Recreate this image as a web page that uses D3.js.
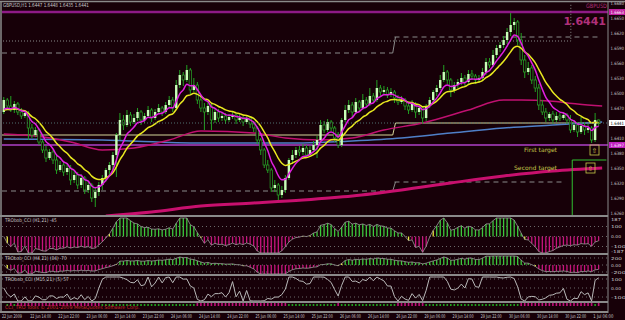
<!DOCTYPE html>
<html>
<head>
<meta charset="utf-8">
<script src="https://cdn.jsdelivr.net/npm/d3@7"></script>
<style>
  body { margin: 0; background: #170008; }
  svg { display: block; font-family: "DejaVu Sans", sans-serif; }
</style>
</head>
<body>
<svg id="chart" width="625" height="320"></svg>
<script>
// GBPUSD H1 bars, [open, high, low, close]
const bars = [
  [1.6463,1.6493,1.6459,1.6487],[1.6487,1.6491,1.6471,1.6475],[1.6475,1.6495,1.6463,1.6467],[1.6467,1.6485,1.6461,1.6479],
  [1.6479,1.6483,1.6457,1.6463],[1.6463,1.6471,1.6449,1.6455],[1.6455,1.6467,1.6451,1.6461],[1.6461,1.6465,1.6407,1.6431],
  [1.6431,1.6439,1.6411,1.6417],[1.6417,1.6433,1.6413,1.6427],[1.6427,1.6431,1.6397,1.6403],[1.6403,1.6407,1.6381,1.6387],
  [1.6387,1.6395,1.6363,1.6371],[1.6371,1.6389,1.6367,1.6383],[1.6383,1.6387,1.6359,1.6367],[1.6367,1.6375,1.6339,1.6347],
  [1.6347,1.6365,1.6343,1.6357],[1.6357,1.6363,1.6335,1.6343],[1.6343,1.6361,1.6337,1.6351],[1.6351,1.6357,1.6317,1.6327],
  [1.6327,1.6345,1.6321,1.6337],[1.6337,1.6343,1.6309,1.6317],[1.6317,1.6339,1.6311,1.6331],[1.6331,1.6335,1.6299,1.6307],
  [1.6307,1.6325,1.6301,1.6317],[1.6317,1.6321,1.6283,1.6291],[1.6291,1.6311,1.6273,1.6303],[1.6303,1.6323,1.6295,1.6317],
  [1.6317,1.6337,1.6307,1.6331],[1.6331,1.6351,1.6323,1.6347],[1.6347,1.6363,1.6337,1.6357],[1.6357,1.6383,1.6347,1.6377],
  [1.6377,1.6421,1.6333,1.6417],[1.6417,1.6461,1.6407,1.6447],[1.6447,1.6457,1.6427,1.6437],[1.6437,1.6467,1.6433,1.6457],
  [1.6457,1.6463,1.6435,1.6443],[1.6443,1.6459,1.6439,1.6451],[1.6451,1.6471,1.6445,1.6463],[1.6463,1.6467,1.6437,1.6447],
  [1.6447,1.6461,1.6441,1.6455],[1.6455,1.6475,1.6451,1.6467],[1.6467,1.6471,1.6443,1.6451],[1.6451,1.6469,1.6447,1.6463],
  [1.6463,1.6479,1.6459,1.6471],[1.6471,1.6475,1.6455,1.6463],[1.6463,1.6483,1.6459,1.6477],[1.6477,1.6495,1.6471,1.6487],
  [1.6487,1.6493,1.6463,1.6471],[1.6471,1.6527,1.6467,1.6517],[1.6517,1.6547,1.6511,1.6537],[1.6537,1.6543,1.6515,1.6527],
  [1.6527,1.6557,1.6523,1.6547],[1.6547,1.6551,1.6499,1.6507],[1.6507,1.6531,1.6503,1.6517],[1.6517,1.6523,1.6479,1.6487],
  [1.6487,1.6495,1.6463,1.6471],[1.6471,1.6481,1.6427,1.6463],[1.6463,1.6483,1.6457,1.6475],[1.6475,1.6479,1.6427,1.6447],
  [1.6447,1.6471,1.6441,1.6463],[1.6463,1.6469,1.6443,1.6451],[1.6451,1.6463,1.6445,1.6455],[1.6455,1.6461,1.6439,1.6447],
  [1.6447,1.6459,1.6443,1.6453],[1.6453,1.6463,1.6449,1.6457],[1.6457,1.6461,1.6439,1.6447],[1.6447,1.6459,1.6443,1.6451],
  [1.6451,1.6455,1.6435,1.6443],[1.6443,1.6457,1.6439,1.6451],[1.6451,1.6455,1.6431,1.6439],[1.6439,1.6445,1.6423,1.6431],
  [1.6431,1.6435,1.6399,1.6407],[1.6407,1.6411,1.6377,1.6387],[1.6387,1.6391,1.6351,1.6357],[1.6357,1.6367,1.6341,1.6347],
  [1.6347,1.6351,1.6303,1.6311],[1.6311,1.6327,1.6303,1.6317],[1.6317,1.6321,1.6287,1.6297],[1.6297,1.6315,1.6291,1.6307],
  [1.6307,1.6337,1.6301,1.6331],[1.6331,1.6371,1.6327,1.6367],[1.6367,1.6387,1.6359,1.6377],[1.6377,1.6393,1.6371,1.6387],
  [1.6387,1.6395,1.6375,1.6383],[1.6383,1.6399,1.6377,1.6391],[1.6391,1.6397,1.6371,1.6377],[1.6377,1.6395,1.6373,1.6387],
  [1.6387,1.6405,1.6383,1.6397],[1.6397,1.6415,1.6371,1.6407],[1.6407,1.6447,1.6403,1.6437],[1.6437,1.6445,1.6421,1.6427],
  [1.6427,1.6449,1.6423,1.6443],[1.6443,1.6447,1.6425,1.6431],[1.6431,1.6435,1.6403,1.6411],[1.6411,1.6423,1.6391,1.6397],
  [1.6397,1.6451,1.6393,1.6447],[1.6447,1.6477,1.6443,1.6467],[1.6467,1.6487,1.6461,1.6477],[1.6477,1.6483,1.6453,1.6463],
  [1.6463,1.6491,1.6459,1.6483],[1.6483,1.6487,1.6465,1.6471],[1.6471,1.6499,1.6467,1.6487],[1.6487,1.6493,1.6473,1.6479],
  [1.6479,1.6511,1.6475,1.6495],[1.6495,1.6501,1.6481,1.6487],[1.6487,1.6527,1.6483,1.6511],[1.6511,1.6517,1.6495,1.6503],
  [1.6503,1.6515,1.6497,1.6507],[1.6507,1.6513,1.6491,1.6497],[1.6497,1.6511,1.6493,1.6503],[1.6503,1.6507,1.6481,1.6491],
  [1.6491,1.6497,1.6477,1.6483],[1.6483,1.6495,1.6479,1.6487],[1.6487,1.6491,1.6467,1.6475],[1.6475,1.6481,1.6459,1.6467],
  [1.6467,1.6487,1.6463,1.6479],[1.6479,1.6483,1.6451,1.6463],[1.6463,1.6477,1.6457,1.6471],[1.6471,1.6475,1.6439,1.6451],
  [1.6451,1.6479,1.6445,1.6475],[1.6475,1.6493,1.6471,1.6487],[1.6487,1.6507,1.6479,1.6503],[1.6503,1.6517,1.6495,1.6511],
  [1.6511,1.6537,1.6507,1.6527],[1.6527,1.6557,1.6523,1.6543],[1.6543,1.6547,1.6519,1.6527],[1.6527,1.6531,1.6493,1.6507],
  [1.6507,1.6523,1.6501,1.6517],[1.6517,1.6529,1.6511,1.6523],[1.6523,1.6541,1.6517,1.6531],[1.6531,1.6537,1.6513,1.6523],
  [1.6523,1.6547,1.6519,1.6539],[1.6539,1.6547,1.6527,1.6535],[1.6535,1.6539,1.6519,1.6527],[1.6527,1.6537,1.6521,1.6531],
  [1.6531,1.6551,1.6527,1.6543],[1.6543,1.6571,1.6537,1.6563],[1.6563,1.6571,1.6551,1.6557],[1.6557,1.6587,1.6553,1.6577],
  [1.6577,1.6597,1.6571,1.6591],[1.6591,1.6603,1.6583,1.6597],[1.6597,1.6615,1.6591,1.6607],[1.6607,1.6631,1.6599,1.6623],
  [1.6623,1.6661,1.6615,1.6637],[1.6637,1.6651,1.6627,1.6643],[1.6643,1.6647,1.6597,1.6607],[1.6607,1.6621,1.6557,1.6567],
  [1.6567,1.6577,1.6531,1.6543],[1.6543,1.6563,1.6537,1.6551],[1.6551,1.6557,1.6519,1.6527],[1.6527,1.6535,1.6503,1.6511],
  [1.6511,1.6519,1.6467,1.6477],[1.6477,1.6487,1.6457,1.6463],[1.6463,1.6471,1.6443,1.6451],[1.6451,1.6463,1.6445,1.6459],
  [1.6459,1.6465,1.6439,1.6447],[1.6447,1.6463,1.6443,1.6455],[1.6455,1.6461,1.6445,1.6451],[1.6451,1.6463,1.6447,1.6457],
  [1.6457,1.6461,1.6439,1.6447],[1.6447,1.6457,1.6421,1.6427],[1.6427,1.6447,1.6423,1.6437],[1.6437,1.6443,1.6413,1.6423],
  [1.6423,1.6453,1.6419,1.6435],[1.6435,1.6443,1.6417,1.6427],[1.6427,1.6439,1.6421,1.6431],[1.6431,1.6435,1.6401,1.6407],
  [1.6407,1.6461,1.6403,1.6447],[1.6447,1.6448,1.6435,1.6441]
];

// slow moving averages: [bar index, price]
const slowMA = [[0,1.6419],[9,1.6415],[19,1.6403],[28,1.6387],[37,1.6391],[47,1.6407],[56,1.6425],[71,1.6421],[80,1.6411],[90,1.6407],[99,1.6411],[108,1.6427],[119,1.6441],[132,1.6467],[142,1.6487],[147,1.6487],[155,1.6485],[163,1.6479],[170,1.6475]];
const blueMA = [[0,1.6409],[28,1.6407],[56,1.6401],[85,1.6401],[99,1.6405],[113,1.6411],[127,1.6421],[142,1.6431],[156,1.6437],[170,1.6443]];
const longMA = [[29,1.6255],[42,1.6263],[56,1.6275],[71,1.6281],[85,1.6287],[99,1.6295],[113,1.6307],[127,1.6321],[142,1.6335],[156,1.6345],[170,1.6351]];
const maSeeds = [1.6461, 1.6463];   // magenta, yellow at the left edge

// horizontal levels: [from bar, to bar, price]
const dashedLevels = [[0,111,1.6581],[111.5,170,1.6613],[0,111,1.6305],[111.5,160,1.6323]];
const pivotLevels = [[0,111,1.6417],[111.5,170,1.6441]];
const dottedLevel = [0,161.6,1.6605];
const topLevel = 1.6663;
const violetLevel = 1.6397;
const targetLevels = [["First target", 1.6387], ["Second target", 1.6351]];
const greenBox = [162, 1.6367];
const bidPrice = 1.6441;

const priceTicks = [1.6680,1.6650,1.6620,1.6590,1.6560,1.6530,1.6500,1.6470,1.6440,1.6410,1.6380,1.6350,1.6320,1.6290,1.6260];
const timeLabels = ["22 Jun 2009","22 Jun 14:00","22 Jun 22:00","23 Jun 06:00","23 Jun 14:00","23 Jun 22:00","24 Jun 06:00","24 Jun 14:00","24 Jun 22:00","25 Jun 06:00","25 Jun 14:00","25 Jun 22:00","26 Jun 06:00","26 Jun 14:00","26 Jun 22:00","29 Jun 06:00","29 Jun 14:00","29 Jun 22:00","30 Jun 06:00","30 Jun 14:00","30 Jun 22:00","1 Jul 06:00"];
const panelTitles = ["TRObob_CCI (H1,21) -45", "TRObob_CCI (H4,21) (84) -70", "TRObob_CCI (M15,21) (5) 57", "CCI_TRO Tools \u00a9 2001-2009 MetaQuotes Software Corp."];
const cciTicks2 = [187, 100, 0, -100, -187];
const cciTicks3 = [200, 0, -200];
const cciTicks4 = [100, 0, -100];

const svg = d3.select("#chart");
const W = 625, H = 320, plotR = 608;
const bg = "#170008", frame = "#8a8a8a", txt = "#c8c8c8";

svg.append("rect").attr("width", W).attr("height", H).attr("fill", bg);

const x = d3.scaleLinear().domain([0, 170]).range([2, 2 + 170 * 3.52]);
const y = d3.scaleLinear().domain([1.6687, 1.6257]).range([0, 215]);
const cx = i => x(i + 0.5);

// small squeezed text like the terminal's bitmap font: measured, then scaled to width w
function label(g, tx, ty, s, w, col, size) {
  const t = g.append("text").attr("font-size", size || 5).attr("fill", col || txt).text(s);
  const len = t.node().getComputedTextLength() || w;
  t.attr("transform", `translate(${tx},${ty}) scale(${w / len},1)`);
  return t;
}

// indicators computed from the bars
function ema(vals, n, seed) {
  const k = 2 / (n + 1); let e = seed;
  return vals.map(v => (e = e + k * (v - e)));
}
function cci(n) {
  const tp = bars.map(b => (b[1] + b[2] + b[3]) / 3);
  return tp.map((v, i) => {
    const w = tp.slice(Math.max(0, i - n + 1), i + 1);
    if (w.length < 2) return 0;
    const m = d3.mean(w), md = d3.mean(w, d => Math.abs(d - m));
    return md === 0 ? 0 : (v - m) / (0.015 * md);
  });
}
const closes = bars.map(b => b[3]);
const fastMA = ema(closes, 6, maSeeds[0]);
const midMA = ema(closes, 12, maSeeds[1]);

// ---- main panel
svg.append("clipPath").attr("id", "clipMain").append("rect").attr("x", 2).attr("y", 3).attr("width", plotR - 2).attr("height", 212);
const main = svg.append("g").attr("clip-path", "url(#clipMain)");

main.append("line").attr("x1", 0).attr("x2", plotR).attr("y1", y(topLevel)).attr("y2", y(topLevel))
  .attr("stroke", "#8e1a86").attr("stroke-width", 2.5);

main.append("path")
  .attr("d", `M0,${y(dottedLevel[2])}H${x(dottedLevel[1])}V0`)
  .attr("fill", "none").attr("stroke", "#8a8a8a").attr("stroke-dasharray", "1,2");

dashedLevels.forEach(d => {
  main.append("line").attr("x1", x(d[0])).attr("x2", x(d[1])).attr("y1", y(d[2])).attr("y2", y(d[2]))
    .attr("stroke", "#8a8a8a").attr("stroke-dasharray", "5,4");
});
// step joints at day change
[[0, 1], [2, 3]].forEach(([a, b]) => {
  main.append("line").attr("x1", x(dashedLevels[a][1])).attr("x2", x(dashedLevels[b][0]) + 1)
    .attr("y1", y(dashedLevels[a][2])).attr("y2", y(dashedLevels[b][2])).attr("stroke", "#8a8a8a");
});

main.append("path")
  .attr("d", `M${x(pivotLevels[0][0])},${y(pivotLevels[0][2])}H${x(pivotLevels[0][1])}L${x(pivotLevels[1][0]) + 1},${y(pivotLevels[1][2])}H${x(pivotLevels[1][1])}`)
  .attr("fill", "none").attr("stroke", "#d6d69a").attr("stroke-width", 1);

main.append("line").attr("x1", 0).attr("x2", plotR).attr("y1", y(violetLevel)).attr("y2", y(violetLevel))
  .attr("stroke", "#b040c8").attr("stroke-width", 1.5);

const curve = d3.line().x(d => cx(d[0])).y(d => y(d[1])).curve(d3.curveMonotoneX);
main.append("path").datum(longMA).attr("d", curve).attr("fill", "none").attr("stroke", "#c8106e").attr("stroke-width", 3);
main.append("path").datum(blueMA).attr("d", curve).attr("fill", "none").attr("stroke", "#4f7fc8").attr("stroke-width", 1.5);
main.append("path").datum(slowMA).attr("d", curve).attr("fill", "none").attr("stroke", "#c01070").attr("stroke-width", 1.5);

// candles
const cg = main.append("g");
bars.forEach((b, i) => {
  const up = b[3] >= b[0];
  cg.append("line").attr("x1", cx(i)).attr("x2", cx(i)).attr("y1", y(b[1])).attr("y2", y(b[2]))
    .attr("stroke", "#22a022").attr("stroke-width", 1);
  const top = y(Math.max(b[0], b[3])), h = Math.max(1, Math.abs(y(b[0]) - y(b[3])));
  cg.append("rect").attr("x", cx(i) - 1.2).attr("y", top).attr("width", 2.4).attr("height", h)
    .attr("fill", up ? "#c8ffb8" : bg).attr("stroke", up ? "none" : "#28a828").attr("stroke-width", 0.7);
});

const line = d3.line().x((d, i) => cx(i)).y(d => y(d)).curve(d3.curveMonotoneX);
main.append("path").datum(midMA).attr("d", line).attr("fill", "none").attr("stroke", "#e8e820").attr("stroke-width", 1.5);
main.append("path").datum(fastMA).attr("d", line).attr("fill", "none").attr("stroke", "#e020e0").attr("stroke-width", 1.5);

// bid line
main.append("line").attr("x1", 0).attr("x2", plotR).attr("y1", y(bidPrice)).attr("y2", y(bidPrice))
  .attr("stroke", "#507070").attr("stroke-dasharray", "1,2");

// targets
targetLevels.forEach((t, k) => {
  const ty = y(t[1]);
  label(svg, 524 - k * 10, ty + 2, t[0], 33 + k * 10, "#c8c84a", 6);
  svg.append("rect").attr("x", 590 - k * 4).attr("y", ty - 5).attr("width", 9).attr("height", 10)
    .attr("fill", "none").attr("stroke", "#c8c84a").attr("stroke-width", 0.8);
  svg.append("text").attr("x", 594.5 - k * 4).attr("y", ty + 3).attr("text-anchor", "middle")
    .attr("font-size", 7).attr("fill", "#c8c84a").text("\u21e7");
});
// green marker
svg.append("path").attr("d", `M${x(greenBox[0])},216V${y(greenBox[1])}H${x(170) + 6}`)
  .attr("fill", "none").attr("stroke", "#30c030").attr("stroke-width", 1);

// labels in main panel
label(svg, 3, 7, "GBPUSD,H1  1.6447 1.6448 1.6435 1.6441", 86, txt, 5.5);
label(svg, 586, 8, "GBPUSD", 21, "#b0307a", 6);
svg.append("text").attr("x", 606).attr("y", 25).attr("text-anchor", "end").attr("font-size", 11).attr("font-weight", "bold").attr("fill", "#b0307a").text("1.6441");

// ---- sub panels
const cci21 = cci(21), cci42 = cci(42), cci7 = cci(7);
const p2 = d3.scaleLinear().domain([0, 100]).range([236.5, 226.5]);
const p3 = d3.scaleLinear().domain([0, 200]).range([265, 258]);
const p4 = d3.scaleLinear().domain([0, 100]).range([288, 279]);

function histo(vals, sc, lo, hi) {
  const g = svg.append("g");
  vals.forEach((v, i) => {
    const prev = i > 0 ? vals[i - 1] : v;
    let col = v >= 0 ? "#3cc83c" : "#c8147e";
    if ((v >= 0) !== (prev >= 0)) col = "#e8e840";
    const yy = Math.max(lo, Math.min(hi, sc(v)));
    g.append("line").attr("x1", cx(i)).attr("x2", cx(i)).attr("y1", sc(0)).attr("y2", yy)
      .attr("stroke", col).attr("stroke-width", 1.3);
  });
  g.append("path").datum(vals).attr("fill", "none").attr("stroke", "#9a9a9a").attr("stroke-width", 0.8)
    .attr("d", d3.line().x((d, i) => cx(i)).y(d => Math.max(lo, Math.min(hi, sc(d)))));
}
function grid(vals, sc) {
  vals.forEach(v => {
    svg.append("line").attr("x1", 2).attr("x2", plotR).attr("y1", sc(v)).attr("y2", sc(v))
      .attr("stroke", "#6a6a6a").attr("stroke-dasharray", "1,3");
    label(svg, 611, sc(v) + 1.5, v === 0 ? "0.00" : String(v), v === 0 ? 10 : 4 * String(v).length - 1, txt, 4);
  });
}
grid(cciTicks2.slice(1, 4), p2);
grid(cciTicks3, p3);
grid(cciTicks4, p4);
histo(cci21, p2, 218, 253);
histo(cci42.map(v => v * 1.5), p3, 256, 274);
svg.append("path").datum(cci7).attr("fill", "none").attr("stroke", "#b8b8b8").attr("stroke-width", 1)
  .attr("d", d3.line().x((d, i) => cx(i)).y(d => Math.max(277, Math.min(301, p4(d)))));

// panel 5: trend bars
const g5 = svg.append("g");
closes.forEach((c, i) => {
  if (i === 0) return;
  const d = midMA[i] - midMA[i - 1];
  g5.append("rect").attr("x", cx(i) - 0.8).attr("y", d >= 0 ? 304 : 303).attr("width", 1.6).attr("height", d >= 0 ? 2 : 3)
    .attr("fill", d >= 0 ? "#20a020" : "#c0107a");
});

// ---- frames
[216, 254, 275, 302, 312].forEach(v => {
  svg.append("line").attr("x1", 0).attr("x2", plotR).attr("y1", v).attr("y2", v).attr("stroke", frame).attr("stroke-width", 2);
});
svg.append("line").attr("x1", 0).attr("x2", W).attr("y1", 1.5).attr("y2", 1.5).attr("stroke", frame).attr("stroke-width", 1.5);
svg.append("line").attr("x1", 1).attr("x2", 1).attr("y1", 1).attr("y2", 313).attr("stroke", frame).attr("stroke-width", 1.5);
svg.append("line").attr("x1", plotR).attr("x2", plotR).attr("y1", 1).attr("y2", 313).attr("stroke", frame).attr("stroke-width", 1);

// panel titles
[[222, 52], [260, 62], [281, 64], [309, 135]].forEach(([v, w], k) => {
  label(svg, 5, v, panelTitles[k], w, k === 3 ? "#c83030" : txt, 5);
});
label(svg, 611, 221, String(cciTicks2[0]), 10, txt, 4);
label(svg, 611, 252.5, String(cciTicks2[4]), 13, txt, 4);

// price axis
priceTicks.forEach(p => {
  label(svg, 610.5, y(p) + 1.5, p.toFixed(4), 13.5, txt, 4.5);
});
[[topLevel, "#c020a0"], [violetLevel, "#c020c0"]].forEach(([p, c]) => {
  svg.append("rect").attr("x", 609).attr("y", y(p) - 3).attr("width", 16).attr("height", 6).attr("fill", c);
  label(svg, 610.5, y(p) + 1.5, p.toFixed(4), 13.5, "#fff", 4.5);
});
svg.append("rect").attr("x", 609).attr("y", y(bidPrice) - 3).attr("width", 16).attr("height", 6).attr("fill", "#fff");
label(svg, 610.5, y(bidPrice) + 1.5, bidPrice.toFixed(4), 13.5, "#000", 4.5);

// time axis
timeLabels.forEach((t, k) => {
  label(svg, x(k * 8), 318, t, t.length > 11 ? 21 : 20, txt, 5);
});
</script>
</body>
</html>
